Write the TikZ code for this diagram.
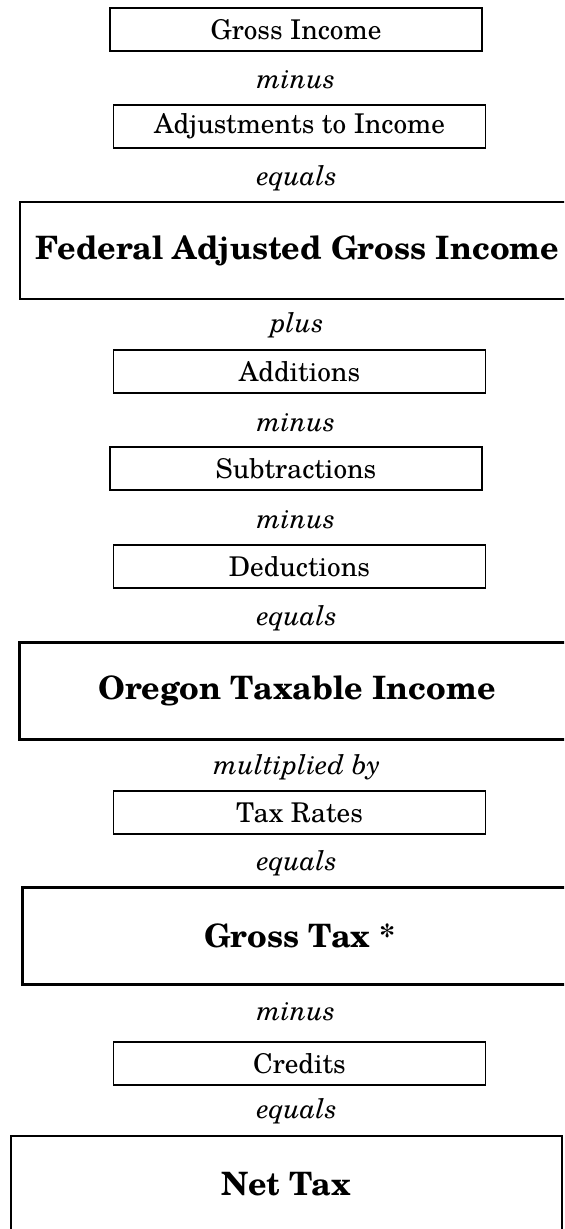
\documentclass[tikz,border=0pt]{standalone}
\usepackage{fontspec}
\setmainfont{TeX Gyre Schola}
\usetikzlibrary{positioning}
\tikzset{
    smallbox/.style={draw, line width=0.6pt, minimum width=186pt, minimum height=21.5pt, inner sep=0pt, font=\fontsize{13.6}{16}\selectfont},
    bigbox/.style={draw, line width=1.1pt, minimum width=277.5pt, minimum height=48.5pt, inner sep=0pt, font=\fontsize{16.1}{19}\selectfont\bfseries},
    opword/.style={font=\fontsize{13.6}{16}\selectfont\itshape}
}

\begin{document}
\begin{tikzpicture}[x=0.5pt,y=-0.5pt]
    \useasboundingbox (0,0) rectangle (564,1229);
    \clip (0,0) rectangle (564,1229);
    \node[smallbox] (gross) at (296,29.5) {Gross Income};
    \node[opword] (op1) at (296,80) {minus};
    \node[smallbox] (adjust) at (299.5,126.5) {Adjustments to Income};
    \node[opword] (op2) at (297,178) {equals};
    \node[bigbox] (fagi) at (297.5,250.5) {Federal Adjusted Gross Income};
    \node[opword] (op3) at (297,325) {plus};
    \node[smallbox] (add) at (299.5,371.5) {Additions};
    \node[opword] (op4) at (296,423) {minus};
    \node[smallbox] (sub) at (296,468.5) {Subtractions};
    \node[opword] (op5) at (296,520) {minus};
    \node[smallbox] (ded) at (299.5,566.5) {Deductions};
    \node[opword] (op6) at (297,618) {equals};
    \node[bigbox] (oti) at (297,691) {Oregon Taxable Income};
    \node[opword] (op7) at (297,767) {multiplied by};
    \node[smallbox] (rates) at (299.5,812.5) {Tax Rates};
    \node[opword] (op8) at (297,863) {equals};
    \node[bigbox] (grosstax) at (300,936) {Gross Tax *};
    \node[opword] (op9) at (296,1012) {minus};
    \node[smallbox] (cred) at (299.5,1063.5) {Credits};
    \node[opword] (op10) at (297,1111) {equals};
    \node[bigbox, minimum width=275.5pt] (net) at (286.5,1184.5) {Net Tax};
\end{tikzpicture}
\end{document}
